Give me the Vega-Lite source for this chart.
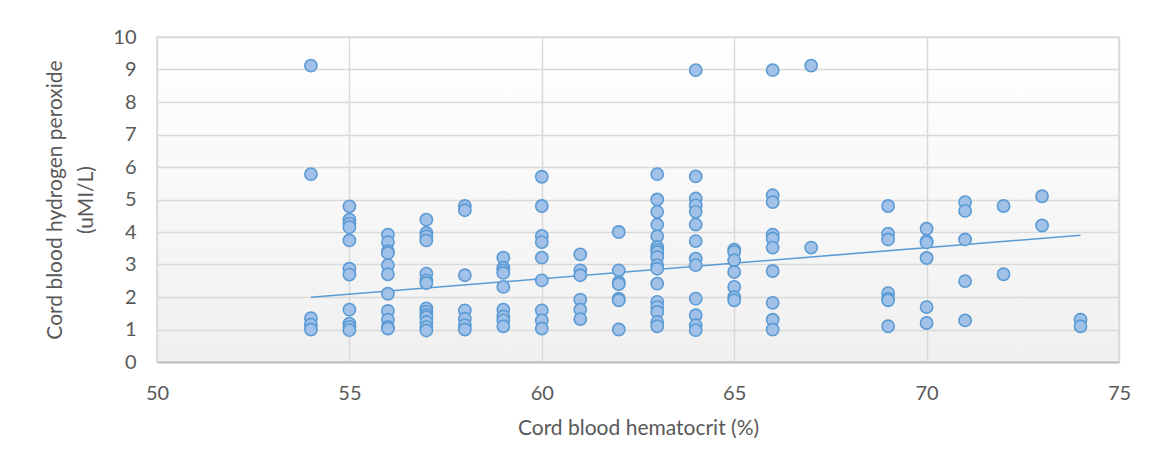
{
  "$schema": "https://vega.github.io/schema/vega-lite/v6.json",
  "autosize": "none",
  "width": 962,
  "height": 325,
  "padding": {"left": 157, "top": 37, "right": 32, "bottom": 108},
  "background": "white",
  "datasets": {
    "points": [
      {"hct":54,"h2o2":9.12},{"hct":54,"h2o2":5.78},{"hct":54,"h2o2":1.35},{"hct":54,"h2o2":1.15},{"hct":54,"h2o2":1.0},
      {"hct":55,"h2o2":4.79},{"hct":55,"h2o2":4.38},{"hct":55,"h2o2":4.26},{"hct":55,"h2o2":4.15},{"hct":55,"h2o2":3.74},{"hct":55,"h2o2":2.87},{"hct":55,"h2o2":2.69},{"hct":55,"h2o2":1.61},{"hct":55,"h2o2":1.18},{"hct":55,"h2o2":1.08},{"hct":55,"h2o2":0.98},
      {"hct":56,"h2o2":3.92},{"hct":56,"h2o2":3.69},{"hct":56,"h2o2":3.41},{"hct":56,"h2o2":3.35},{"hct":56,"h2o2":2.98},{"hct":56,"h2o2":2.70},{"hct":56,"h2o2":2.10},{"hct":56,"h2o2":1.57},{"hct":56,"h2o2":1.30},{"hct":56,"h2o2":1.08},{"hct":56,"h2o2":1.03},
      {"hct":57,"h2o2":4.38},{"hct":57,"h2o2":3.97},{"hct":57,"h2o2":3.87},{"hct":57,"h2o2":3.74},{"hct":57,"h2o2":2.72},{"hct":57,"h2o2":2.51},{"hct":57,"h2o2":2.43},{"hct":57,"h2o2":1.65},{"hct":57,"h2o2":1.55},{"hct":57,"h2o2":1.45},{"hct":57,"h2o2":1.38},{"hct":57,"h2o2":1.23},{"hct":57,"h2o2":1.08},{"hct":57,"h2o2":0.97},
      {"hct":58,"h2o2":4.80},{"hct":58,"h2o2":4.67},{"hct":58,"h2o2":2.67},{"hct":58,"h2o2":1.59},{"hct":58,"h2o2":1.33},{"hct":58,"h2o2":1.13},{"hct":58,"h2o2":1.0},
      {"hct":59,"h2o2":3.21},{"hct":59,"h2o2":2.90},{"hct":59,"h2o2":2.82},{"hct":59,"h2o2":2.74},{"hct":59,"h2o2":2.31},{"hct":59,"h2o2":1.61},{"hct":59,"h2o2":1.40},{"hct":59,"h2o2":1.28},{"hct":59,"h2o2":1.10},
      {"hct":60,"h2o2":5.70},{"hct":60,"h2o2":4.80},{"hct":60,"h2o2":3.88},{"hct":60,"h2o2":3.69},{"hct":60,"h2o2":3.21},{"hct":60,"h2o2":2.51},{"hct":60,"h2o2":1.59},{"hct":60,"h2o2":1.28},{"hct":60,"h2o2":1.03},
      {"hct":61,"h2o2":3.31},{"hct":61,"h2o2":2.82},{"hct":61,"h2o2":2.67},{"hct":61,"h2o2":1.92},{"hct":61,"h2o2":1.61},{"hct":61,"h2o2":1.32},
      {"hct":62,"h2o2":4.0},{"hct":62,"h2o2":2.82},{"hct":62,"h2o2":2.46},{"hct":62,"h2o2":2.40},{"hct":62,"h2o2":1.95},{"hct":62,"h2o2":1.90},{"hct":62,"h2o2":1.0},
      {"hct":63,"h2o2":5.78},{"hct":63,"h2o2":5.0},{"hct":63,"h2o2":4.62},{"hct":63,"h2o2":4.23},{"hct":63,"h2o2":3.87},{"hct":63,"h2o2":3.54},{"hct":63,"h2o2":3.45},{"hct":63,"h2o2":3.38},{"hct":63,"h2o2":3.23},{"hct":63,"h2o2":2.98},{"hct":63,"h2o2":2.87},{"hct":63,"h2o2":2.41},{"hct":63,"h2o2":1.85},{"hct":63,"h2o2":1.69},{"hct":63,"h2o2":1.54},{"hct":63,"h2o2":1.23},{"hct":63,"h2o2":1.10},
      {"hct":64,"h2o2":8.98},{"hct":64,"h2o2":5.71},{"hct":64,"h2o2":5.03},{"hct":64,"h2o2":4.82},{"hct":64,"h2o2":4.62},{"hct":64,"h2o2":4.23},{"hct":64,"h2o2":3.72},{"hct":64,"h2o2":3.18},{"hct":64,"h2o2":2.98},{"hct":64,"h2o2":1.95},{"hct":64,"h2o2":1.44},{"hct":64,"h2o2":1.13},{"hct":64,"h2o2":0.98},
      {"hct":65,"h2o2":3.46},{"hct":65,"h2o2":3.39},{"hct":65,"h2o2":3.13},{"hct":65,"h2o2":2.77},{"hct":65,"h2o2":2.31},{"hct":65,"h2o2":2.0},{"hct":65,"h2o2":1.90},
      {"hct":66,"h2o2":8.98},{"hct":66,"h2o2":5.13},{"hct":66,"h2o2":4.92},{"hct":66,"h2o2":3.92},{"hct":66,"h2o2":3.80},{"hct":66,"h2o2":3.52},{"hct":66,"h2o2":2.80},{"hct":66,"h2o2":1.82},{"hct":66,"h2o2":1.30},{"hct":66,"h2o2":1.0},
      {"hct":67,"h2o2":9.12},{"hct":67,"h2o2":3.52},
      {"hct":69,"h2o2":4.80},{"hct":69,"h2o2":3.95},{"hct":69,"h2o2":3.77},{"hct":69,"h2o2":2.12},{"hct":69,"h2o2":1.95},{"hct":69,"h2o2":1.90},{"hct":69,"h2o2":1.10},
      {"hct":70,"h2o2":4.10},{"hct":70,"h2o2":3.72},{"hct":70,"h2o2":3.68},{"hct":70,"h2o2":3.20},{"hct":70,"h2o2":1.69},{"hct":70,"h2o2":1.20},
      {"hct":71,"h2o2":4.92},{"hct":71,"h2o2":4.65},{"hct":71,"h2o2":3.77},{"hct":71,"h2o2":2.49},{"hct":71,"h2o2":1.28},
      {"hct":72,"h2o2":4.80},{"hct":72,"h2o2":2.70},
      {"hct":73,"h2o2":5.10},{"hct":73,"h2o2":4.20},
      {"hct":74,"h2o2":1.30},{"hct":74,"h2o2":1.10}
    ],
    "trend": [
      {"hct":54,"h2o2":1.99},{"hct":74,"h2o2":3.90}
    ]
  },
  "encoding": {
    "x": {"field": "hct", "type": "quantitative", "scale": {"domain": [50, 75], "nice": false, "zero": false},
      "axis": {"values": [50,55,60,65,70,75], "title": "Cord blood hematocrit (%)", "labelPadding": 21, "titlePadding": 14, "labelFlush": false, "labelOverlap": false}},
    "y": {"field": "h2o2", "type": "quantitative", "scale": {"domain": [0, 10], "nice": false},
      "axis": {"values": [0,1,2,3,4,5,6,7,8,9,10], "title": ["Cord blood hydrogen peroxide", "(uMI/L)"], "labelPadding": 21, "titlePadding": 16, "titleLineHeight": 31, "labelFlush": false, "labelOverlap": false}}
  },
  "layer": [
    {
      "data": {"name": "trend"},
      "mark": {"type": "line", "color": "#5b9bd5", "strokeWidth": 1.6}
    },
    {
      "data": {"name": "points"},
      "mark": {"type": "point", "shape": "circle", "filled": true, "size": 150, "fill": "#a2c1e8", "stroke": "#5b9bd5", "strokeWidth": 1.6, "opacity": 1, "fillOpacity": 1, "strokeOpacity": 1}
    }
  ],
  "config": {
    "font": "Lato",
    "view": {
      "stroke": "#d9d9d9",
      "strokeWidth": 1.5,
      "fill": {"gradient": "linear", "x1": 0, "y1": 0, "x2": 0, "y2": 1, "stops": [{"offset": 0, "color": "#ffffff"}, {"offset": 1, "color": "#f0f0f0"}]}
    },
    "axis": {
      "domain": false,
      "ticks": false,
      "tickSize": 0,
      "grid": true,
      "gridColor": "#d9d9d9",
      "gridWidth": 1.5,
      "labelFont": "Lato",
      "labelFontSize": 20,
      "labelColor": "#595959",
      "titleFont": "Lato",
      "titleFontSize": 21,
      "titleFontWeight": "normal",
      "titleColor": "#595959"
    },
    "axisX": {"domain": true, "domainColor": "#bfbfbf", "domainWidth": 2}
  }
}
